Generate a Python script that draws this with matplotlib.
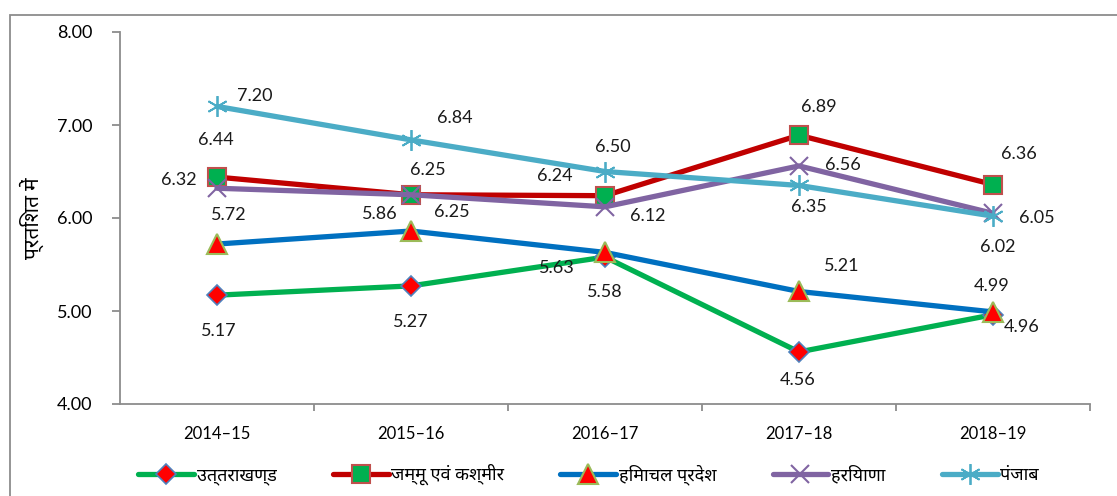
import matplotlib
matplotlib.use("Agg")
import matplotlib.pyplot as plt
from matplotlib import font_manager
from matplotlib.ft2font import FT2Font
from matplotlib.patches import Rectangle

# find a font that can draw Devanagari, if there is one (prefer Noto / Devanagari named ones)
deva_fonts = []
for f in font_manager.fontManager.ttflist:
    try:
        if 0x0915 in FT2Font(f.fname).get_charmap():
            deva_fonts.append(f.name)
    except Exception:
        pass
deva_fonts.sort(key=lambda n: (0 if "Devanagari" in n else 1, 0 if "Noto" in n else 1, n))

families = ["Lato"] + deva_fonts[:1] + ["DejaVu Sans"]
plt.rcParams["font.family"] = families

years = ["2014–15", "2015–16", "2016–17", "2017–18", "2018–19"]
states = ["उत्तराखण्ड", "जम्मू एवं कश्मीर", "हिमाचल प्रदेश", "हरियाणा", "पंजाब"]

uttarakhand = [5.17, 5.27, 5.58, 4.56, 4.96]
jammu_kashmir = [6.44, 6.25, 6.24, 6.89, 6.36]
himachal = [5.72, 5.86, 5.63, 5.21, 4.99]
haryana = [6.32, 6.25, 6.12, 6.56, 6.05]
punjab = [7.20, 6.84, 6.50, 6.35, 6.02]

series = [uttarakhand, jammu_kashmir, himachal, haryana, punjab]

styles = [
    dict(color="#00B050", marker="D", ms=10, mfc="#FF0000", mec="#4F81BD", mew=1.2),
    dict(color="#C00000", marker="s", ms=13, mfc="#00B050", mec="#C0504D", mew=1.5),
    dict(color="#0070C0", marker="^", ms=14, mfc="#FF0000", mec="#9BBB59", mew=1.5),
    dict(color="#8064A2", marker="x", ms=13, mec="#8064A2", mew=1.5),
    dict(color="#4BACC6", marker=(6, 2, 0), ms=15, mec="#4BACC6", mew=1.3),
]

# label offsets in pixels (dx, dy) for each point
offsets = [
    [(2, -36), (0, -36), (0, -35), (-1, -28), (29, -12)],
    [(-1, 37), (17, 25), (-50, 20), (20, 28), (26, 31)],
    [(12, 29), (-31, 17), (-48, -16), (43, 25), (-1, 26)],
    [(-38, 8), (41, -17), (43, -9), (44, 1), (44, -5)],
    [(38, 10), (44, 22), (8, 25), (10, -22), (5, -31)],
]

fig = plt.figure(figsize=(11.17, 4.96), dpi=100)
fig.patches.append(Rectangle((10 / 1117, -0.1), 1.2, 1 - 15 / 496 + 0.1,
                             transform=fig.transFigure, fill=False,
                             edgecolor="#8C8C8C", lw=1.3))
ax = fig.add_axes([120 / 1117, 1 - 404 / 496, 970 / 1117, 372 / 496])

x = range(len(years))
for vals, st, offs, name in zip(series, styles, offsets, states):
    ax.plot(x, vals, lw=3.8, label=name, solid_capstyle="round", **st)
    for xi, v, (dx, dy) in zip(x, vals, offs):
        ax.annotate(f"{v:.2f}", (xi, v), xytext=(dx, dy), textcoords="offset pixels",
                    ha="center", va="center", fontsize=13, color="#1a1a1a")

ax.set_xlim(-0.5, 4.5)
ax.set_ylim(4, 8)
ax.set_yticks([4, 5, 6, 7, 8])
ax.set_yticklabels([f"{t:.2f}" for t in [4, 5, 6, 7, 8]], fontsize=13)
ax.set_xticks(list(x))
ax.set_xticklabels(years, fontsize=12)
ax.set_xticks([0.5, 1.5, 2.5, 3.5, 4.5], minor=True)
ax.tick_params(axis="x", which="major", length=0, pad=16)
ax.tick_params(axis="x", which="minor", length=5, color="#8C8C8C", width=1.3)
ax.tick_params(axis="y", length=6, color="#8C8C8C", width=1.3, pad=14)

for s in ["top", "right"]:
    ax.spines[s].set_visible(False)
for s in ["left", "bottom"]:
    ax.spines[s].set_color("#8C8C8C")
    ax.spines[s].set_linewidth(1.3)

ax.set_ylabel("प्रतिशत में", fontsize=15, fontweight="bold")
ax.yaxis.set_label_coords(-0.078, 0.5)

ax.legend(loc="center", bbox_to_anchor=(0.483, -0.19), ncol=5, frameon=False,
          fontsize=13, handlelength=3.1, handletextpad=0.15, columnspacing=3.1)

fig.savefig("out.png", dpi=100)
